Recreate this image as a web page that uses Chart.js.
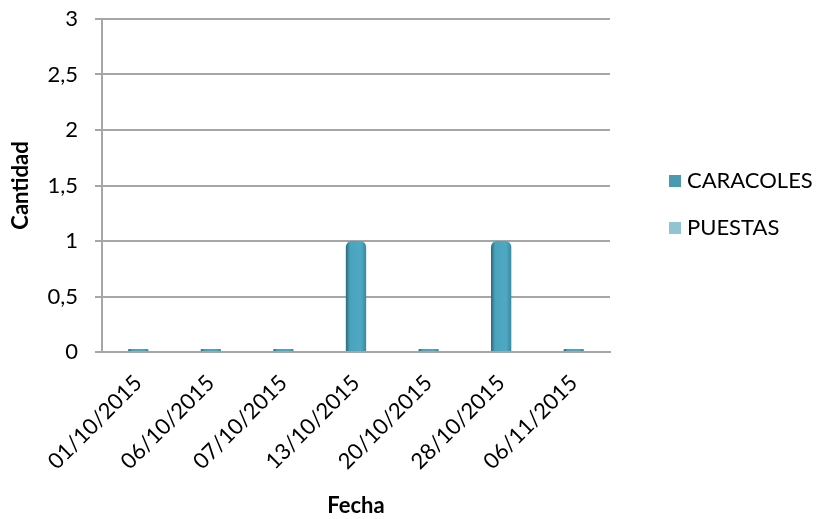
<!DOCTYPE html>
<html>
<head>
<meta charset="utf-8">
<script src="https://cdn.jsdelivr.net/npm/chart.js@4"></script>
<style>
  html, body { margin: 0; padding: 0; background: #fff; }
  #wrap { width: 817px; height: 519px; }
</style>
</head>
<body>
<div id="wrap"><canvas id="grafico" width="817" height="519"></canvas></div>
<script>
const categorias = ['01/10/2015', '06/10/2015', '07/10/2015', '13/10/2015', '20/10/2015', '28/10/2015', '06/11/2015'];
const caracoles = [0, 0, 0, 1, 0, 1, 0];
const puestas = [0, 0, 0, 0, 0, 0, 0];
const series = ['CARACOLES', 'PUESTAS'];
const coloresLeyenda = ['#4a9bb0', '#92c3d2'];

// columna con sombreado como el 3D de Excel
function relleno(ctx) {
    const chart = ctx.chart;
    const x = chart.scales.x;
    if (!x || ctx.type !== 'data') return '#4aa3bc';
    const cx = x.getPixelForValue(ctx.dataIndex);
    if (!isFinite(cx)) return '#4aa3bc';
    const g = chart.ctx.createLinearGradient(cx - 10, 0, cx + 10, 0);
    g.addColorStop(0, '#2c6b7d');
    g.addColorStop(0.2, '#4aa3bc');
    g.addColorStop(0.75, '#4fa9c2');
    g.addColorStop(1, '#3a8aa1');
    return g;
}

const leyenda = {
    id: 'leyenda',
    afterDraw(chart) {
        const c = chart.ctx;
        c.save();
        c.font = '22px Lato';
        c.textBaseline = 'middle';
        chart.data.datasets.forEach((ds, i) => {
            const y = 181 + i * 47;
            c.fillStyle = coloresLeyenda[i];
            c.fillRect(669, y - 6, 12, 12);
            c.fillStyle = '#000';
            c.fillText(ds.label, 687, y);
        });
        c.restore();
    }
};

const ctx = document.getElementById('grafico').getContext('2d');
new Chart(ctx, {
    type: 'bar',
    data: {
        labels: categorias,
        datasets: [{
            label: series[0],
            data: caracoles,
            backgroundColor: relleno,
            grouped: false,
            minBarLength: 3,
            borderRadius: { topLeft: 6, topRight: 6 },
            borderSkipped: 'bottom',
            categoryPercentage: 1,
            barPercentage: 0.28
        }, {
            label: series[1],
            data: puestas,
            backgroundColor: coloresLeyenda[1],
            grouped: false,
            categoryPercentage: 1,
            barPercentage: 0.28
        }]
    },
    options: {
        responsive: false,
        animation: false,
        layout: { padding: { top: 19, right: 207, left: 0, bottom: 0 } },
        plugins: { legend: { display: false }, tooltip: { enabled: false } },
        scales: {
            x: {
                grid: { display: false },
                border: { color: '#a6a6a6', width: 2 },
                ticks: { color: '#000', font: { family: 'Lato', size: 22 }, minRotation: 45, maxRotation: 45, padding: 10 },
                title: { display: true, text: 'Fecha', color: '#000', font: { family: 'Lato', size: 22, weight: 'bold' }, padding: { top: 4, bottom: 0 } },
                afterFit(scale) { scale.height = 519 - 352; }
            },
            y: {
                min: 0,
                max: 3,
                grid: { color: '#a6a6a6', lineWidth: 2, tickLength: 7 },
                border: { color: '#a6a6a6', width: 2 },
                ticks: {
                    stepSize: 0.5,
                    color: '#000',
                    padding: 17,
                    font: { family: 'Lato', size: 22 },
                    callback: v => String(v).replace('.', ',')
                },
                title: { display: true, text: 'Cantidad', color: '#000', font: { family: 'Lato', size: 22, weight: 'bold' }, padding: { top: 8, bottom: 4 } },
                afterFit(scale) {
                    scale.width = 102;
                    // el padding de las etiquetas no debe empujar el área hacia abajo
                    scale.paddingTop = 12;
                    scale.paddingBottom = 12;
                }
            }
        }
    },
    plugins: [leyenda]
});
</script>
</body>
</html>
